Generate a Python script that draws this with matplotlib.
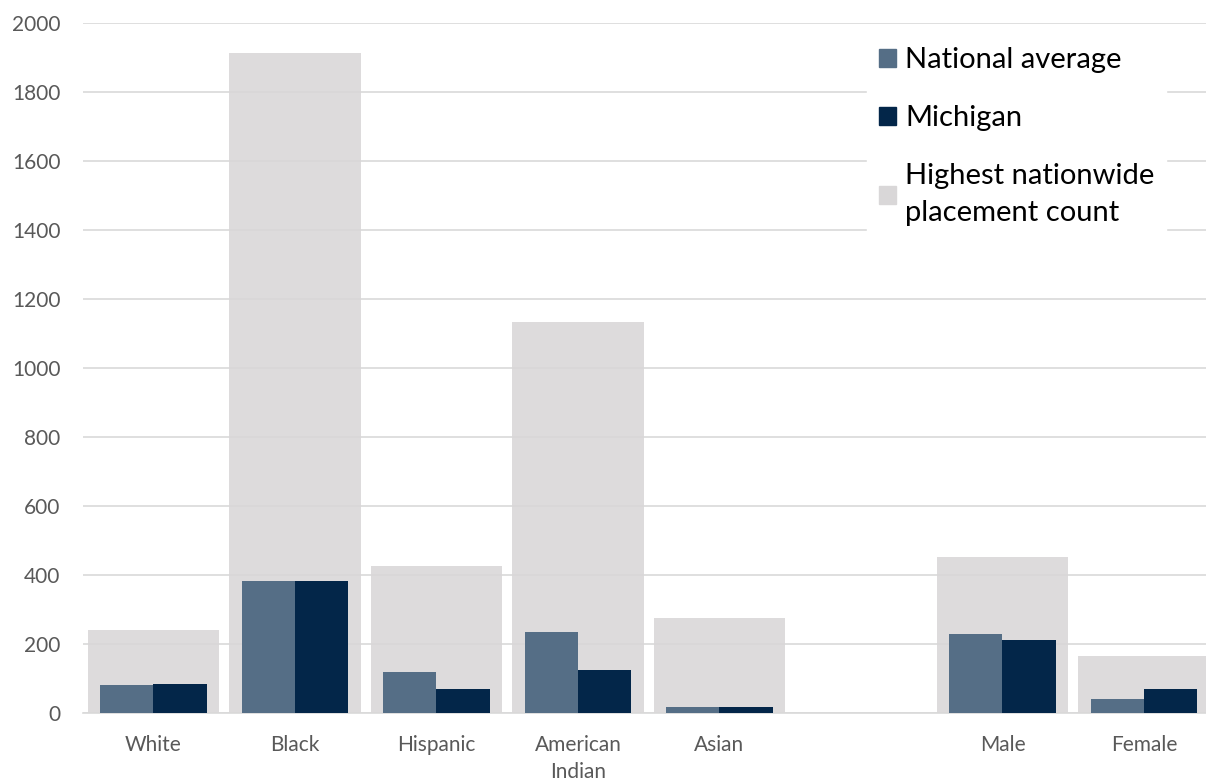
import numpy as np
import matplotlib.pyplot as plt
from matplotlib.patches import Patch

# data
categories = ['White', 'Black', 'Hispanic', 'American\nIndian', 'Asian', '', 'Male', 'Female']
national_avg = [81, 382, 118, 234, 17, np.nan, 228, 42]
michigan = [85, 382, 70, 126, 17, np.nan, 212, 70]
highest = [240, 1913, 426, 1133, 274, np.nan, 451, 164]

c_nat = '#556e86'
c_mi = '#032649'
c_high = '#d9d7d8'
txt = '#595959'

plt.rcParams['font.family'] = ['Lato', 'DejaVu Sans']

fig = plt.figure(figsize=(12.06, 7.83), dpi=100)
# plot area runs a little past the right edge, as in the original
ax = fig.add_axes([0.0686, 0.0894, 0.9386, 0.8812])

x = np.arange(len(categories))
w = 0.375
ax.bar(x, highest, 0.93, color=c_high, alpha=0.88, zorder=2)
ax.bar(x - w / 2, national_avg, w, color=c_nat, zorder=3)
ax.bar(x + w / 2, michigan, w, color=c_mi, zorder=3)

ax.set_xlim(-0.5, len(categories) - 0.5)
ax.set_ylim(0, 2000)
ax.set_yticks(np.arange(0, 2001, 200))
ax.grid(axis='y', color='#d9d9d9', lw=1.2, zorder=1)
ax.set_axisbelow(True)
ax.set_xticks(x)
ax.set_xticklabels(categories, fontsize=15, color=txt, linespacing=1.45)
ax.tick_params(axis='y', labelsize=15, labelcolor=txt, length=0, pad=16)
ax.tick_params(axis='x', length=0, pad=16)
for s in ['top', 'right', 'left']:
    ax.spines[s].set_visible(False)
ax.spines['bottom'].set_color('#d9d9d9')
ax.spines['bottom'].set_linewidth(1.2)

handles = [Patch(color=c_nat), Patch(color=c_mi), Patch(color=c_high)]
labels = ['National average', 'Michigan', 'Highest nationwide\nplacement count']
leg = ax.legend(handles, labels, loc='upper left', bbox_to_anchor=(0.68, 1.003),
                fontsize=21, frameon=True, fancybox=False, edgecolor='white',
                framealpha=1, handlelength=0.6, handleheight=0.6, handletextpad=0.3,
                labelspacing=1.1, borderpad=0.4)
leg.set_zorder(5)
for t in leg.get_texts():
    t.set_linespacing(1.5)

fig.savefig('out.png', dpi=100)
